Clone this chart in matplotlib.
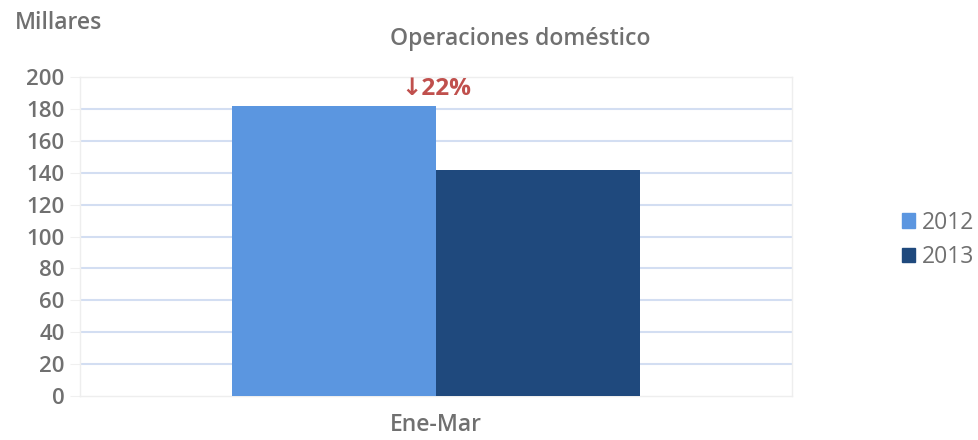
import matplotlib.pyplot as plt
from matplotlib.patches import Patch

plt.rcParams['font.family'] = ['Open Sans', 'DejaVu Sans']

categories = ["Ene-Mar"]
years = ["2012", "2013"]
values_2012 = [182]
values_2013 = [142]
change_label = "\u219322%"
colors = ["#5b96e0", "#1f497d"]
grey = "#707070"

fig = plt.figure(figsize=(9.79, 4.40), dpi=100)
ax = fig.add_axes([0.0817, 0.1, 0.727, 0.725])

w = 0.287
ax.bar([-w / 2], values_2012, width=w, color=colors[0], zorder=3)
ax.bar([w / 2], values_2013, width=w, color=colors[1], zorder=3)

ax.set_xlim(-0.5, 0.5)
ax.set_ylim(0, 200)
ax.set_yticks(range(0, 201, 20))
ax.set_xticks([0])
ax.set_xticklabels(categories)
ax.tick_params(axis="y", length=7, color="#f0f0f0", labelsize=16, labelcolor=grey, pad=4)
ax.tick_params(axis="x", length=0, labelsize=16.5, labelcolor=grey, pad=12)
for lbl in ax.get_yticklabels() + ax.get_xticklabels():
    lbl.set_fontweight("semibold")

for y in range(20, 200, 20):
    ax.axhline(y, color="#d3def2", lw=1.5, zorder=1)
for s in ax.spines.values():
    s.set_color("#eeeeee")
    s.set_linewidth(1)

ax.text(0, 185, change_label, color="#c0504d", fontsize=17.5, fontweight="bold",
        ha="center", va="bottom", zorder=4)

fig.text(0.015, 0.948, "Millares", color=grey, fontsize=16.5, fontweight="semibold", va="center")
fig.text(0.531, 0.912, "Operaciones dom\u00e9stico", color=grey, fontsize=16.5,
         fontweight="semibold", ha="center", va="center")

handles = [Patch(color=c, label=y) for c, y in zip(colors, years)]
fig.legend(handles=handles, loc="center left", bbox_to_anchor=(0.921, 0.455),
           frameon=False, fontsize=16.5, labelcolor=grey, handlelength=0.6,
           handleheight=0.6, handletextpad=0.3, labelspacing=0.45, borderpad=0,
           borderaxespad=0)

fig.savefig("out.png", dpi=100)
